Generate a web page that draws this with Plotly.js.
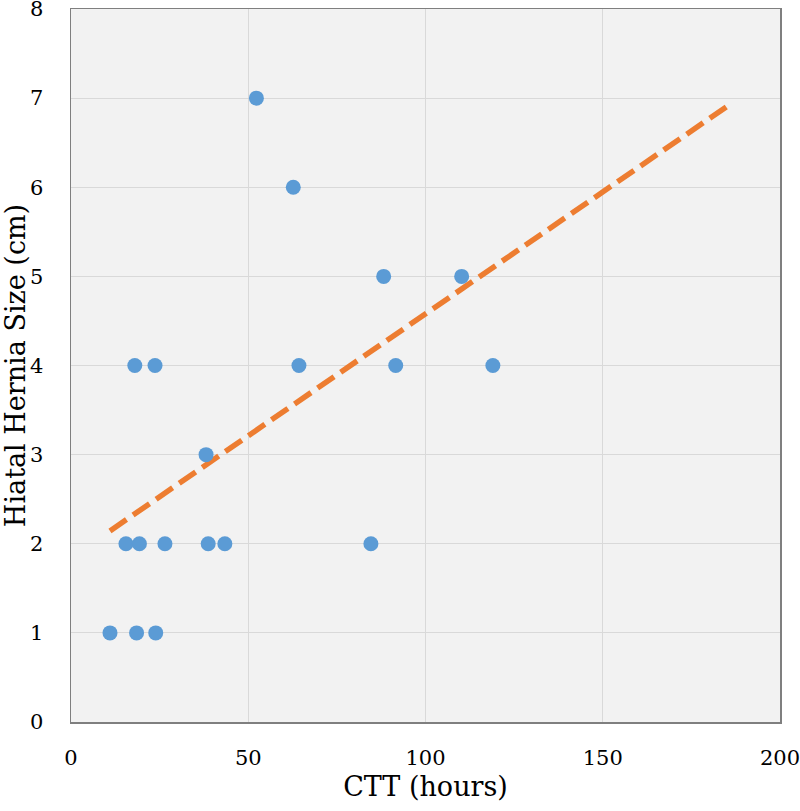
<!DOCTYPE html>
<html>
<head>
<meta charset="utf-8">
<script src="https://cdn.plot.ly/plotly-3.0.1.min.js"></script>
<style>html,body{margin:0;padding:0;background:#fff;}#chart{width:800px;height:811px;}</style>
</head>
<body>
<div id="chart"></div>
<script>
// Data
const cttHours = [11.0, 18.5, 23.9, 15.5, 19.3, 26.5, 38.7, 43.4, 84.6, 38.1, 18.0, 23.7, 64.3, 91.6, 119.0, 88.2, 110.2, 62.7, 52.3];
const herniaSize = [1, 1, 1, 2, 2, 2, 2, 2, 2, 3, 4, 4, 4, 4, 4, 5, 5, 6, 7];
const trendEndX = 186; // trendline forecast extent
const xTicks = [0, 50, 100, 150, 200];
const yTicks = [0, 1, 2, 3, 4, 5, 6, 7, 8];

// Least-squares linear trendline
const n = cttHours.length;
const mx = cttHours.reduce((a, b) => a + b, 0) / n;
const my = herniaSize.reduce((a, b) => a + b, 0) / n;
let sxy = 0, sxx = 0;
for (let i = 0; i < n; i++) {
  sxy += (cttHours[i] - mx) * (herniaSize[i] - my);
  sxx += (cttHours[i] - mx) ** 2;
}
const slope = sxy / sxx;
const intercept = my - slope * mx;
const trendX = [Math.min(...cttHours), trendEndX];
const trendY = trendX.map(x => intercept + slope * x);

const font = "'DejaVu Serif', 'Liberation Serif', serif";

const traces = [
  {
    x: trendX, y: trendY, mode: 'lines', type: 'scatter',
    line: {color: '#ed7d31', width: 5.5, dash: '20px,8px'},
    hoverinfo: 'skip', showlegend: false
  },
  {
    x: cttHours, y: herniaSize, mode: 'markers', type: 'scatter',
    marker: {color: '#5b9bd5', size: 15},
    showlegend: false
  }
];

const layout = {
  width: 800, height: 811,
  margin: {l: 71, r: 20, t: 9, b: 89},
  paper_bgcolor: '#ffffff',
  plot_bgcolor: '#f2f2f2',
  font: {family: font, color: '#000', size: 20},
  xaxis: {
    range: [0, 200], tickvals: xTicks, ticktext: xTicks.map(String),
    showgrid: true, gridcolor: '#d9d9d9', gridwidth: 1,
    zeroline: false, showline: true, linecolor: '#7f7f7f', linewidth: 1.5, mirror: true,
    ticks: 'outside', ticklen: 16, tickcolor: 'rgba(0,0,0,0)',
    ticklabeloverflow: 'allow',
    tickfont: {family: font, size: 21},
    title: {text: 'CTT (hours)', font: {family: font, size: 27}, standoff: 8}
  },
  yaxis: {
    range: [0, 8], tickvals: yTicks, ticktext: yTicks.map(String),
    showgrid: true, gridcolor: '#d9d9d9', gridwidth: 1,
    zeroline: false, showline: true, linecolor: '#7f7f7f', linewidth: 1.5, mirror: true,
    ticks: 'outside', ticklen: 22, tickcolor: 'rgba(0,0,0,0)',
    ticklabeloverflow: 'allow',
    tickfont: {family: font, size: 21},
    title: {text: 'Hiatal Hernia Size (cm)', font: {family: font, size: 27}, standoff: 4}
  }
};

Plotly.newPlot('chart', traces, layout, {displayModeBar: false, staticPlot: true});
</script>
</body>
</html>
